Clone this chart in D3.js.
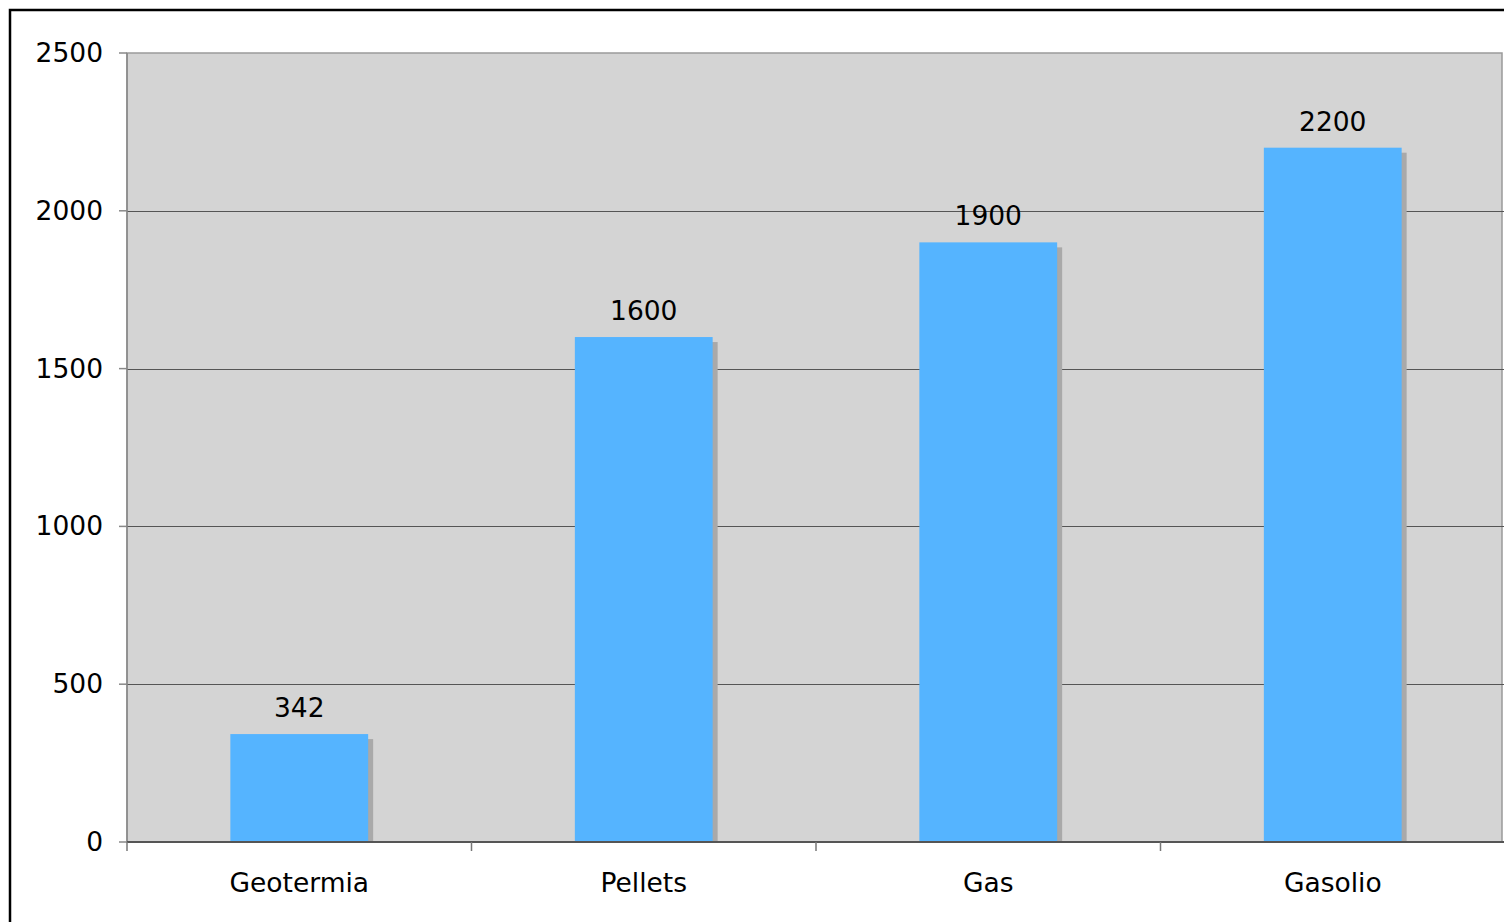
<!DOCTYPE html>
<html>
<head>
<meta charset="utf-8">
<script src="https://cdn.jsdelivr.net/npm/d3@7"></script>
<style>
  body { margin: 0; background: #fff; }
  text { font-family: 'DejaVu Sans', Verdana, sans-serif; }
</style>
</head>
<body>
<script>
// chart values
let categories = ['Geotermia', 'Pellets', 'Gas', 'Gasolio']
let values = [342, 1600, 1900, 2200]
let yTicks = [0, 500, 1000, 1500, 2000, 2500]

let width = 1504
let height = 922
let plotLeft = 127
let plotRight = 1505
let plotTop = 53
let plotBottom = 842
let fontSize = 26.5

let svg = d3
  .select('body')
  .append('svg')
  .attr('width', width)
  .attr('height', height)

// outer frame (runs off the right and bottom edges)
svg
  .append('rect')
  .attr('x', 10)
  .attr('y', 10)
  .attr('width', width + 20)
  .attr('height', height + 20)
  .attr('fill', '#fff')
  .attr('stroke', '#000')
  .attr('stroke-width', 2.5)

let x = d3
  .scaleBand()
  .domain(categories)
  .range([plotLeft, plotRight])
  .paddingInner(0.6)
  .paddingOuter(0.3)

let xb = d3.scaleBand().domain(categories).range([plotLeft, plotRight])

let y = d3.scaleLinear().domain([0, 2500]).range([plotBottom, plotTop])

// plot background
svg
  .append('rect')
  .attr('x', plotLeft)
  .attr('y', plotTop)
  .attr('width', 1502 - plotLeft)
  .attr('height', plotBottom - plotTop)
  .attr('fill', '#d4d4d4')
  .attr('stroke', '#9a9a9a')
  .attr('stroke-width', 1.5)

// gridlines
svg
  .append('g')
  .selectAll('line')
  .data(yTicks.filter(d => d > 0 && d < 2500))
  .join('line')
  .attr('x1', plotLeft)
  .attr('x2', plotRight)
  .attr('y1', d => Math.round(y(d)) + 0.5)
  .attr('y2', d => Math.round(y(d)) + 0.5)
  .attr('stroke', '#555')
  .attr('stroke-width', 1)

// bar shadows
svg
  .append('g')
  .selectAll('rect')
  .data(values)
  .join('rect')
  .attr('x', (d, i) => x(categories[i]) + 5)
  .attr('y', d => y(d) + 5)
  .attr('width', x.bandwidth())
  .attr('height', d => plotBottom - y(d) - 5)
  .attr('fill', '#a9a9a9')

// bars
svg
  .append('g')
  .selectAll('rect')
  .data(values)
  .join('rect')
  .attr('x', (d, i) => x(categories[i]))
  .attr('y', d => y(d))
  .attr('width', x.bandwidth())
  .attr('height', d => plotBottom - y(d))
  .attr('fill', '#55b4ff')

// value labels
svg
  .append('g')
  .selectAll('text')
  .data(values)
  .join('text')
  .attr('x', (d, i) => x(categories[i]) + x.bandwidth() / 2)
  .attr('y', d => y(d) - 17)
  .attr('text-anchor', 'middle')
  .attr('font-size', fontSize)
  .attr('fill', '#000')
  .text(d => d)

// y axis
let yAxis = svg.append('g')
yAxis
  .append('line')
  .attr('x1', plotLeft)
  .attr('x2', plotLeft)
  .attr('y1', plotTop)
  .attr('y2', plotBottom)
  .attr('stroke', '#888')
  .attr('stroke-width', 1.5)
yAxis
  .selectAll('.tick')
  .data(yTicks)
  .join('line')
  .attr('x1', plotLeft - 8)
  .attr('x2', plotLeft)
  .attr('y1', d => y(d))
  .attr('y2', d => y(d))
  .attr('stroke', '#888')
  .attr('stroke-width', 1.5)
yAxis
  .selectAll('text')
  .data(yTicks)
  .join('text')
  .attr('x', 103)
  .attr('y', d => y(d) + 9)
  .attr('text-anchor', 'end')
  .attr('font-size', fontSize)
  .text(d => d)

// x axis
let xAxis = svg.append('g')
xAxis
  .append('line')
  .attr('x1', plotLeft)
  .attr('x2', plotRight)
  .attr('y1', plotBottom)
  .attr('y2', plotBottom)
  .attr('stroke', '#555')
  .attr('stroke-width', 2)
xAxis
  .selectAll('.tick')
  .data(categories)
  .join('line')
  .attr('x1', d => xb(d))
  .attr('x2', d => xb(d))
  .attr('y1', plotBottom)
  .attr('y2', plotBottom + 9)
  .attr('stroke', '#777')
  .attr('stroke-width', 1.5)
xAxis
  .selectAll('text')
  .data(categories)
  .join('text')
  .attr('x', d => x(d) + x.bandwidth() / 2)
  .attr('y', 892)
  .attr('text-anchor', 'middle')
  .attr('font-size', fontSize)
  .text(d => d)
</script>
</body>
</html>
